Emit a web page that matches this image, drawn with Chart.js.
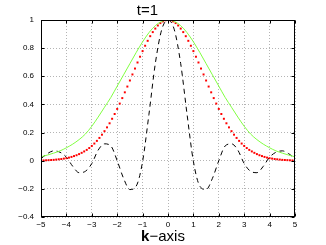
<!DOCTYPE html>
<html>
<head>
<meta charset="utf-8">
<script src="https://cdn.jsdelivr.net/npm/chart.js@4/dist/chart.umd.min.js"></script>
<style>
  body { margin: 0; background: #fff; }
  #wrap { position: relative; width: 326px; height: 245px; }
  #xlabel {
    position: absolute; left: 0; top: 228px; width: 326px;
    text-align: center; font: 15px/15px "Liberation Sans", Arial, sans-serif; color: #000;
  }
</style>
</head>
<body>
<div id="wrap">
  <canvas id="c" width="326" height="245"></canvas>
  <div id="xlabel"><b>k</b>&minus;axis</div>
</div>
<script>
// x values of the coarse curves (green solid, black dashed)
const kCoarse = [-5, -4.75, -4.5, -4.25, -4, -3.75, -3.5, -3.25, -3, -2.75, -2.5, -2.25, -2, -1.75, -1.5, -1.25, -1, -0.75, -0.5, -0.25,
  0, 0.25, 0.5, 0.75, 1, 1.25, 1.5, 1.75, 2, 2.25, 2.5, 2.75, 3, 3.25, 3.5, 3.75, 4, 4.25, 4.5, 4.75, 5];

const greenVals = [0.028, 0.04, 0.054, 0.07, 0.092, 0.118, 0.15, 0.19, 0.245, 0.31, 0.38, 0.45, 0.53, 0.61, 0.69, 0.77, 0.845, 0.91, 0.96, 0.99,
  1.0, 0.99, 0.96, 0.91, 0.845, 0.77, 0.69, 0.61, 0.53, 0.45, 0.38, 0.31, 0.245, 0.19, 0.15, 0.118, 0.092, 0.07, 0.054, 0.04, 0.028];

const dashVals = [0.015, 0.05, 0.07, 0.06, 0.025, -0.04, -0.085, -0.075, -0.02, 0.075, 0.12, 0.105, 0.0, -0.125, -0.205, -0.18, -0.005, 0.33, 0.69, 0.93,
  1.0, 0.93, 0.69, 0.33, -0.005, -0.18, -0.205, -0.125, 0.0, 0.105, 0.12, 0.075, -0.02, -0.075, -0.085, -0.04, 0.025, 0.06, 0.07, 0.05, 0.015];

// x values of the red dots
const kFine = [-5.0, -4.9, -4.8, -4.7, -4.6, -4.5, -4.4, -4.3, -4.2, -4.1,
  -4.0, -3.9, -3.8, -3.7, -3.6, -3.5, -3.4, -3.3, -3.2, -3.1,
  -3.0, -2.9, -2.8, -2.7, -2.6, -2.5, -2.4, -2.3, -2.2, -2.1,
  -2.0, -1.9, -1.8, -1.7, -1.6, -1.5, -1.4, -1.3, -1.2, -1.1,
  -1.0, -0.9, -0.8, -0.7, -0.6, -0.5, -0.4, -0.3, -0.2, -0.1,
  0,
  0.1, 0.2, 0.3, 0.4, 0.5, 0.6, 0.7, 0.8, 0.9, 1.0,
  1.1, 1.2, 1.3, 1.4, 1.5, 1.6, 1.7, 1.8, 1.9, 2.0,
  2.1, 2.2, 2.3, 2.4, 2.5, 2.6, 2.7, 2.8, 2.9, 3.0,
  3.1, 3.2, 3.3, 3.4, 3.5, 3.6, 3.7, 3.8, 3.9, 4.0,
  4.1, 4.2, 4.3, 4.4, 4.5, 4.6, 4.7, 4.8, 4.9, 5.0];

const redVals = [0.002, 0.002, 0.003, 0.004, 0.005, 0.006, 0.008, 0.010, 0.012, 0.015,
  0.018, 0.022, 0.027, 0.033, 0.039, 0.047, 0.056, 0.066, 0.077, 0.090,
  0.105, 0.122, 0.141, 0.162, 0.185, 0.210, 0.237, 0.266, 0.298, 0.332,
  0.368, 0.406, 0.445, 0.486, 0.527, 0.570, 0.613, 0.655, 0.698, 0.739,
  0.779, 0.817, 0.852, 0.885, 0.914, 0.939, 0.961, 0.978, 0.990, 0.998,
  1.000,
  0.998, 0.990, 0.978, 0.961, 0.939, 0.914, 0.885, 0.852, 0.817, 0.779,
  0.739, 0.698, 0.655, 0.613, 0.570, 0.527, 0.486, 0.445, 0.406, 0.368,
  0.332, 0.298, 0.266, 0.237, 0.210, 0.185, 0.162, 0.141, 0.122, 0.105,
  0.090, 0.077, 0.066, 0.056, 0.047, 0.039, 0.033, 0.027, 0.022, 0.018,
  0.015, 0.012, 0.010, 0.008, 0.006, 0.005, 0.004, 0.003, 0.002, 0.002];

const xTicks = [-5, -4, -3, -2, -1, 0, 1, 2, 3, 4, 5];
const yTicks = [-0.4, -0.2, 0, 0.2, 0.4, 0.6, 0.8, 1];

const fmt = v => {
  const r = Math.round(v * 10) / 10;
  return String(r).replace('-', '\u2212');
};

// box + inward tick marks like the matlab axes
const boxPlugin = {
  id: 'box',
  afterDraw(chart) {
    const { ctx, chartArea: a, scales } = chart;
    const L = Math.round(a.left) + 0.5, R = Math.round(a.right) - 0.5;
    const T = Math.round(a.top) + 0.5, B = Math.round(a.bottom) - 0.5;
    ctx.save();
    ctx.strokeStyle = '#000';
    ctx.lineWidth = 1;
    ctx.strokeRect(L, T, R - L, B - T);
    ctx.beginPath();
    xTicks.forEach(v => {
      const px = Math.round(scales.x.getPixelForValue(v)) + 0.5;
      ctx.moveTo(px, B); ctx.lineTo(px, B - 3);
      ctx.moveTo(px, T); ctx.lineTo(px, T + 3);
    });
    yTicks.forEach(v => {
      const py = Math.round(scales.y.getPixelForValue(v)) + 0.5;
      ctx.moveTo(L, py); ctx.lineTo(L + 3, py);
      ctx.moveTo(R, py); ctx.lineTo(R - 3, py);
    });
    ctx.stroke();
    ctx.restore();
  }
};

const tickFont = { family: '"Liberation Sans", Arial, sans-serif', size: 8 };

new Chart(document.getElementById('c').getContext('2d'), {
  type: 'line',
  data: {
    datasets: [
      {
        data: kCoarse.map((k, i) => ({ x: k, y: greenVals[i] })),
        borderColor: '#80ff40', borderWidth: 1, pointRadius: 0,
        cubicInterpolationMode: 'monotone', fill: false
      },
      {
        data: kFine.map((k, i) => ({ x: k, y: redVals[i] })),
        showLine: false, pointStyle: 'rect', pointRadius: 1.4, pointBorderWidth: 0,
        pointBackgroundColor: '#ff0000', borderColor: '#ff0000'
      },
      {
        data: kCoarse.map((k, i) => ({ x: k, y: dashVals[i] })),
        borderColor: '#000', borderWidth: 1, borderDash: [5, 4], pointRadius: 0,
        cubicInterpolationMode: 'monotone', fill: false
      }
    ]
  },
  options: {
    responsive: false,
    animation: false,
    devicePixelRatio: 1,
    layout: { padding: { left: 0, right: 31, top: 0, bottom: 0 } },
    plugins: {
      legend: { display: false },
      tooltip: { enabled: false },
      title: {
        display: true, text: 't=1', color: '#000',
        font: { family: '"Liberation Sans", Arial, sans-serif', size: 15, weight: 'normal', lineHeight: 1 },
        padding: { top: 3, bottom: 2 }
      }
    },
    scales: {
      x: {
        type: 'linear', min: -5, max: 5,
        afterFit(s) { s.height = 28; },
        afterBuildTicks(s) { s.ticks = xTicks.map(v => ({ value: v })); },
        ticks: { color: '#000', font: tickFont, padding: 3, maxRotation: 0, callback: fmt },
        grid: { color: '#b4b4b4', lineWidth: 1, drawTicks: false },
        border: { display: false, dash: [1, 2] }
      },
      y: {
        min: -0.4, max: 1,
        afterFit(s) { s.width = 41; },
        afterBuildTicks(s) { s.ticks = yTicks.map(v => ({ value: v })); },
        ticks: { color: '#000', font: tickFont, padding: 7, callback: fmt },
        grid: { color: '#b4b4b4', lineWidth: 1, drawTicks: false },
        border: { display: false, dash: [1, 2] }
      }
    }
  },
  plugins: [boxPlugin]
});
</script>
</body>
</html>
